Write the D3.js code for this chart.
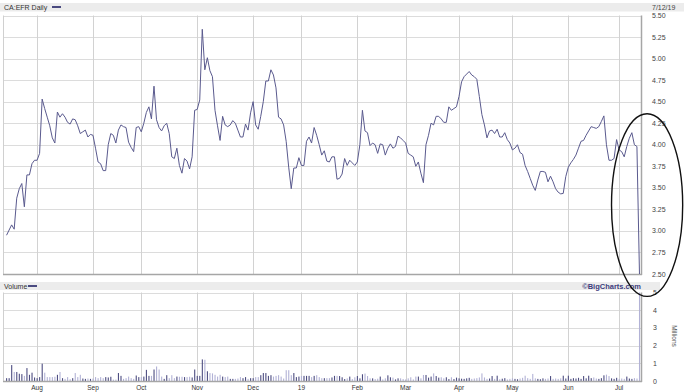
<!DOCTYPE html>
<html><head><meta charset="utf-8">
<script src="https://cdn.jsdelivr.net/npm/d3@7"></script>
<style>
html,body{margin:0;padding:0;background:#fff;}
svg{display:block;}
text{font-family:"Liberation Sans",Arial,sans-serif;}
</style></head><body>
<svg id="c" width="684" height="392"></svg>
<script>
const symbolTitle = "CA:EFR Daily";
const volumeTitle = "Volume";
const lastDateLabel = "7/12/19";
const credit = "\u00A9BigCharts.com";
const unitLabel = "Millions";
const firstDay = [2018, 6, 16], lastDay = [2019, 6, 12];
const holidays = ["2018-08-06","2018-09-03","2018-10-08","2018-12-25","2018-12-26",
  "2019-01-01","2019-02-18","2019-04-19","2019-05-20","2019-07-01"];
const monthLabels = ["Aug","Sep","Oct","Nov","Dec","19","Feb","Mar","Apr","May","Jun","Jul"];
const priceTicks = [2.50,2.75,3.00,3.25,3.50,3.75,4.00,4.25,4.50,4.75,5.00,5.25,5.50];
const volumeTicks = [0,1,2,3,4,5];

const closes = [
 2.95,3.01,3.07,3.02,3.38,3.49,3.55,3.28,3.65,3.65,
 3.78,3.82,3.82,3.90,4.53,4.42,4.32,4.22,4.08,4.02,
 4.38,4.32,4.36,4.32,4.26,4.24,4.30,4.29,4.22,4.13,
 4.15,4.17,4.09,4.12,4.11,3.96,3.80,3.78,3.70,3.70,
 4.00,4.13,4.11,4.02,4.17,4.23,4.21,4.20,4.03,3.97,
 3.92,4.20,4.21,4.15,4.25,4.375,4.44,4.30,4.68,4.29,
 4.20,4.16,4.22,4.25,4.13,3.86,3.84,3.96,3.76,3.67,
 3.84,3.81,3.72,3.86,4.40,4.41,4.52,5.34,4.87,5.01,
 4.86,4.79,4.40,4.22,4.05,4.33,4.23,4.21,4.23,4.28,
 4.25,4.17,4.09,4.09,4.24,4.17,4.37,4.50,4.23,4.18,
 4.33,4.50,4.74,4.74,4.87,4.81,4.66,4.32,4.30,4.23,
 4.04,3.74,3.49,3.73,3.73,3.85,3.76,3.76,4.04,4.09,
 4.02,4.20,4.11,4.00,3.88,3.93,3.81,3.80,3.86,3.86,
 3.60,3.61,3.66,3.84,3.76,3.82,3.79,3.76,3.80,4.00,
 4.40,4.16,4.14,3.99,4.02,4.00,3.90,4.01,4.00,3.88,
 3.96,4.01,3.96,3.98,4.10,4.08,4.05,4.02,3.90,3.88,
 3.86,3.75,3.80,3.67,3.56,4.00,4.11,4.25,4.23,4.33,
 4.33,4.30,4.26,4.26,4.44,4.40,4.42,4.44,4.56,4.73,
 4.79,4.82,4.85,4.81,4.79,4.76,4.56,4.35,4.23,4.08,
 4.16,4.17,4.13,4.18,4.09,4.09,4.14,4.06,4.02,3.94,
 3.96,4.00,3.91,3.89,3.76,3.69,3.61,3.53,3.47,3.59,
 3.69,3.69,3.68,3.57,3.635,3.57,3.49,3.45,3.43,3.435,
 3.63,3.74,3.79,3.83,3.88,3.96,4.04,4.05,4.11,4.16,
 4.21,4.20,4.19,4.21,4.27,4.335,4.00,3.82,3.82,3.84,
 4.06,3.94,3.92,3.86,3.98,4.075,4.14,4.00,3.98,2.50
];
const volumes = [
 0.16,0.16,0.90,0.51,0.51,0.41,0.39,0.29,0.73,0.35,
 0.47,0.20,0.16,0.22,0.98,0.47,0.22,0.22,0.22,0.24,
 0.35,0.51,0.16,0.12,0.22,0.10,0.16,0.45,0.22,0.35,
 0.14,0.12,0.14,0.12,0.14,0.22,0.16,0.22,0.16,0.22,
 0.20,0.24,0.08,0.08,0.45,0.29,0.12,0.16,0.25,0.16,
 0.12,0.31,0.22,0.22,0.25,0.63,0.29,0.29,0.65,0.82,
 0.65,0.25,0.12,0.33,0.16,0.33,0.16,0.25,0.24,0.24,
 0.22,0.22,0.24,0.20,0.65,0.29,0.29,1.22,1.20,0.55,
 0.45,0.43,0.35,0.25,0.35,0.25,0.22,0.25,0.12,0.12,
 0.12,0.14,0.22,0.16,0.22,0.12,0.16,0.16,0.22,0.22,
 0.33,0.45,0.45,0.29,0.33,0.25,0.29,0.33,0.25,0.14,
 0.61,0.61,0.33,0.45,0.22,0.25,0.29,0.29,0.29,0.29,
 0.22,0.29,0.33,0.22,0.16,0.16,0.16,0.16,0.20,0.29,
 0.29,0.28,0.21,0.11,0.15,0.25,0.11,0.21,0.28,0.15,
 0.38,0.42,0.28,0.15,0.15,0.11,0.13,0.25,0.09,0.15,
 0.32,0.21,0.19,0.09,0.15,0.15,0.11,0.09,0.15,0.21,
 0.09,0.25,0.25,0.15,0.34,0.34,0.19,0.25,0.43,0.28,
 0.19,0.21,0.15,0.21,0.11,0.21,0.11,0.19,0.15,0.13,
 0.12,0.15,0.18,0.12,0.14,0.16,0.20,0.43,0.20,0.12,
 0.14,0.28,0.12,0.30,0.10,0.13,0.16,0.09,0.12,0.15,
 0.12,0.10,0.14,0.18,0.30,0.16,0.12,0.40,0.15,0.12,
 0.10,0.15,0.12,0.14,0.28,0.12,0.14,0.12,0.15,0.30,
 0.14,0.30,0.12,0.16,0.14,0.18,0.12,0.28,0.15,0.30,
 0.16,0.20,0.14,0.12,0.16,0.32,0.36,0.28,0.15,0.12,
 0.18,0.12,0.14,0.12,0.25,0.14,0.12,0.16,0.14,6.00
];

// trading days
const fmt = d3.timeFormat("%Y-%m-%d");
const dates = d3.timeDay.range(new Date(...firstDay), d3.timeDay.offset(new Date(...lastDay), 1))
  .filter(d => d.getDay() % 6 !== 0 && !holidays.includes(fmt(d)));
const n = Math.min(dates.length, closes.length, volumes.length);
const data = d3.range(n).map(i => ({i, date: dates[i], close: closes[i], vol: volumes[i],
  up: i === 0 ? true : closes[i] >= closes[i-1]}));
const monthStarts = [];
for (let i = 1; i < n; i++) if (dates[i].getMonth() !== dates[i-1].getMonth()) monthStarts.push(i);
const months = monthStarts.map((idx, k) => ({idx, label: monthLabels[k]}));

const svg = d3.select("#c");
const L = 3, R = 641, pTop = 15.5, pBot = 274, vTop = 292.5, vBot = 381;
const x = d3.scaleLinear().domain([-1.4, 249.6]).range([L, R]);
const y = d3.scaleLinear().domain([2.5, 5.5]).range([pBot, pTop]);
const vy = d3.scaleLinear().domain([0, 5]).range([vBot, vTop]);

const gridCol = "#dcdcdc", vgridCol = "#d2d2d2", lineCol = "#5a5a8e";
const darkBar = "#4e4e82", lightBar = "#b2b2d6";

// title bands
svg.append("rect").attr("x",0).attr("y",3).attr("width",684).attr("height",8.5).attr("fill","#ececec");
svg.append("text").attr("x",4).attr("y",10).attr("font-size",7).attr("fill","#333").text(symbolTitle);
svg.append("line").attr("x1",52).attr("x2",61).attr("y1",7).attr("y2",7).attr("stroke","#4a4a80").attr("stroke-width",2);
svg.append("text").attr("x",652).attr("y",10).attr("font-size",7).attr("fill","#444").text(lastDateLabel);

svg.append("rect").attr("x",0).attr("y",282).attr("width",660).attr("height",8).attr("fill","#ececec");
svg.append("text").attr("x",4).attr("y",288.7).attr("font-size",7).attr("fill","#333").text(volumeTitle);
svg.append("line").attr("x1",28).attr("x2",37).attr("y1",286).attr("y2",286).attr("stroke","#4a4a80").attr("stroke-width",2);
svg.append("text").attr("x",641).attr("y",288.8).attr("text-anchor","end").attr("font-size",7.5)
  .attr("font-weight","bold").attr("fill","#3c3c7c").text(credit);

// price panel grid
const pg = svg.append("g");
pg.selectAll(".hg").data(priceTicks).join("line")
  .attr("x1",L).attr("x2",R).attr("y1",d=>Math.round(y(d))+0.5).attr("y2",d=>Math.round(y(d))+0.5)
  .attr("stroke",gridCol).attr("stroke-width",1);
pg.selectAll(".vg").data(months).join("line")
  .attr("x1",d=>Math.round(x(d.idx))+0.5).attr("x2",d=>Math.round(x(d.idx))+0.5)
  .attr("y1",pTop).attr("y2",pBot).attr("stroke",vgridCol);
pg.append("line").attr("x1",L+0.5).attr("x2",L+0.5).attr("y1",pTop).attr("y2",pBot).attr("stroke","#d0d0d0");
pg.append("line").attr("x1",L).attr("x2",R+1).attr("y1",pBot+0.5).attr("y2",pBot+0.5).attr("stroke","#a6a6a6").attr("stroke-width",1.5);
pg.append("line").attr("x1",R+0.5).attr("x2",R+0.5).attr("y1",pTop).attr("y2",pBot+1).attr("stroke","#a6a6a6").attr("stroke-width",1.5);

// price line
svg.append("path").datum(data).attr("fill","none").attr("stroke",lineCol).attr("stroke-width",1)
  .attr("stroke-linejoin","round")
  .attr("d", d3.line().x(d=>x(d.i)).y(d=>y(d.close)));

// price axis labels
svg.selectAll(".pl").data(priceTicks).join("text")
  .attr("x",652).attr("y",d=>y(d)+2.5).attr("font-size",7).attr("fill","#444")
  .text(d=>d.toFixed(2));

// volume panel
svg.append("clipPath").attr("id","vclip").append("rect").attr("x",L).attr("y",vTop).attr("width",R-L+2).attr("height",vBot-vTop);
const vg = svg.append("g");
vg.selectAll(".hg").data(volumeTicks.slice(1)).join("line")
  .attr("x1",L).attr("x2",R).attr("y1",d=>Math.round(vy(d))+0.5).attr("y2",d=>Math.round(vy(d))+0.5)
  .attr("stroke",gridCol);
vg.selectAll(".vg").data(months).join("line")
  .attr("x1",d=>Math.round(x(d.idx))+0.5).attr("x2",d=>Math.round(x(d.idx))+0.5)
  .attr("y1",vTop).attr("y2",vBot).attr("stroke",vgridCol);
vg.append("line").attr("x1",L+0.5).attr("x2",L+0.5).attr("y1",vTop).attr("y2",vBot).attr("stroke","#d0d0d0");
vg.append("g").attr("clip-path","url(#vclip)").selectAll("rect").data(data).join("rect")
  .attr("x",d=>x(d.i)-0.5).attr("width",1.1)
  .attr("y",d=>vy(d.vol)).attr("height",d=>vBot-vy(d.vol))
  .attr("fill",d=>d.up?darkBar:lightBar);
vg.append("line").attr("x1",L).attr("x2",R+1).attr("y1",vBot+0.5).attr("y2",vBot+0.5).attr("stroke","#a6a6a6").attr("stroke-width",1.5);
vg.append("line").attr("x1",R+0.5).attr("x2",R+0.5).attr("y1",vTop).attr("y2",vBot+1).attr("stroke","#a6a6a6").attr("stroke-width",1.5);

svg.selectAll(".vl").data(volumeTicks).join("text")
  .attr("x",653).attr("y",d=>vy(d)+2.5).attr("font-size",7).attr("fill","#444").text(d=>d);
svg.append("text").attr("transform","translate(672,336) rotate(90)").attr("text-anchor","middle")
  .attr("font-size",6.5).attr("fill","#555").text(unitLabel);

// month labels
svg.selectAll(".ml").data(months).join("text")
  .attr("x",d=>x(d.idx)).attr("y",390).attr("text-anchor","middle").attr("font-size",6.5).attr("fill","#333")
  .text(d=>d.label);

// annotation ellipse around the final drop
svg.append("ellipse").attr("cx",x(252)).attr("cy",y(3.30))
  .attr("rx",x(14)-x(0)).attr("ry",y(2.44)-y(3.50))
  .attr("fill","none").attr("stroke","#111").attr("stroke-width",1.4);
</script></body></html>
